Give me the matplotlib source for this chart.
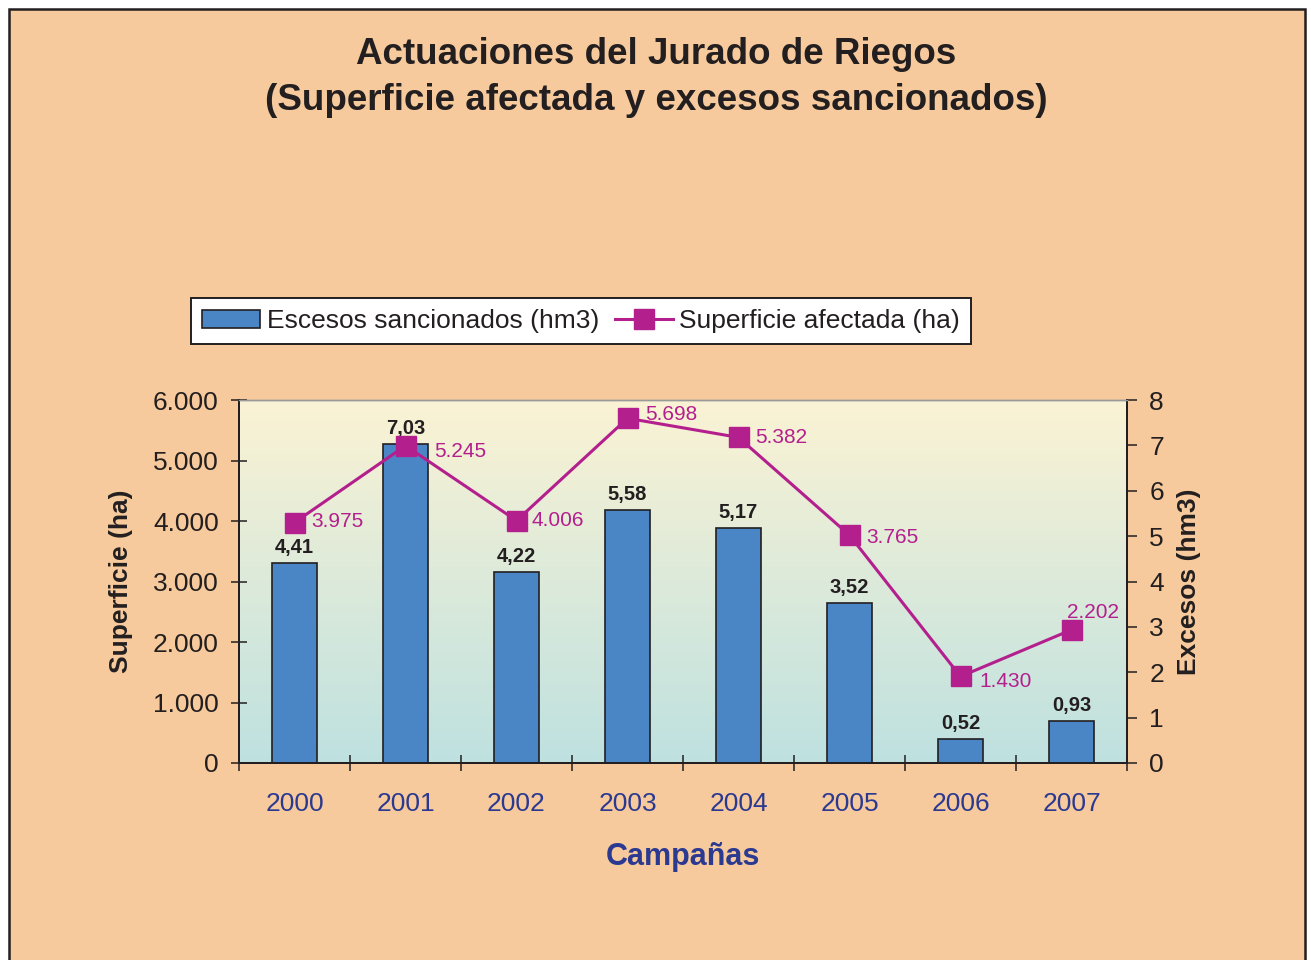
import matplotlib
matplotlib.use("Agg")
import matplotlib.pyplot as plt
import numpy as np
from matplotlib.patches import Rectangle
from matplotlib.ticker import FuncFormatter, MultipleLocator, FixedLocator

plt.rcParams['font.family'] = ['Liberation Sans', 'DejaVu Sans']

# ---- data ----
campanas = ['2000', '2001', '2002', '2003', '2004', '2005', '2006', '2007']
excesos_hm3 = [4.41, 7.03, 4.22, 5.58, 5.17, 3.52, 0.52, 0.93]
superficie_ha = [3975, 5245, 4006, 5698, 5382, 3765, 1430, 2202]

# label offsets (pixels) for the line labels
line_label_offsets = [(17, -1), (29, 6), (15, 0), (18, -4), (17, 0), (17, 2), (19, 5), (-4, -17)]

TXT = '#231F20'
BAR = '#4A86C6'
LINE = '#B41F8E'
BLUE = '#2B3990'
ORANGE = '#F6CA9C'

W, H = 1311, 960
fig = plt.figure(figsize=(W / 100, H / 100), dpi=100, facecolor='white')

# orange panel
fig.patches.append(Rectangle((9 / W, -0.05), (1305 - 9) / W, 1.05 - 9 / H,
                             transform=fig.transFigure, facecolor=ORANGE,
                             edgecolor=TXT, linewidth=1.8, zorder=-5))

# title
fig.text(656 / W, 1 - 55 / H, 'Actuaciones del Jurado de Riegos', ha='center', va='center',
         fontsize=26.5, fontweight='bold', color=TXT)
fig.text(656 / W, 1 - 100 / H, '(Superficie afectada y excesos sancionados)', ha='center', va='center',
         fontsize=26.5, fontweight='bold', color=TXT)

pos = [239 / W, 1 - 763 / H, (1127 - 239) / W, (763 - 400) / H]

# gradient background
bg = fig.add_axes(pos, zorder=0)
top = np.array([0xFB, 0xF3, 0xD4]) / 255
bot = np.array([0xBE, 0xE1, 0xE0]) / 255
t = np.linspace(0, 1, 256)[:, None]
grad = (top[None, :] * (1 - t) + bot[None, :] * t)[:, None, :]
bg.imshow(grad, aspect='auto', extent=[0, 1, 0, 1], interpolation='bilinear')
bg.axis('off')

ax = fig.add_axes(pos, zorder=2)
ax2 = ax.twinx()
ax2.set_zorder(1)
ax.patch.set_visible(False)
ax2.patch.set_visible(False)

x = np.arange(len(campanas))

# bars on right axis
bars = ax2.bar(x, excesos_hm3, width=0.40, color=BAR, edgecolor=TXT, linewidth=1.2,
               label='Escesos sancionados (hm3)')
for xi, v in zip(x, excesos_hm3):
    ax2.annotate(f'{v:.2f}'.replace('.', ','), (xi, v), xytext=(0, 6), textcoords='offset pixels',
                 ha='center', va='bottom', fontsize=14.5, fontweight='bold', color=TXT)

# line on left axis
line, = ax.plot(x, superficie_ha, color=LINE, linewidth=2.2, marker='s', markersize=14.5,
                markerfacecolor=LINE, markeredgecolor=LINE, label='Superficie afectada (ha)')
for xi, v, off in zip(x, superficie_ha, line_label_offsets):
    ax.annotate(f'{v:,}'.replace(',', '.'), (xi, v), xytext=(off[0], -off[1]), textcoords='offset pixels',
                ha='left', va='center', fontsize=15, color=LINE)

ax.set_xlim(-0.5, len(campanas) - 0.5)
ax.set_ylim(0, 6000)
ax2.set_ylim(0, 8)

ax.yaxis.set_major_locator(MultipleLocator(1000))
ax.yaxis.set_major_formatter(FuncFormatter(lambda v, p: f'{int(v):,}'.replace(',', '.')))
ax2.yaxis.set_major_locator(MultipleLocator(1))

ax.set_xticks(x)
ax.set_xticklabels(campanas)
ax.xaxis.set_minor_locator(FixedLocator(np.arange(-0.5, len(campanas), 1.0)))
ax.tick_params(axis='x', which='major', length=0, pad=21, labelsize=19, labelcolor=BLUE)
ax.tick_params(axis='x', which='minor', direction='inout', length=11, width=1.1, color=TXT)
ax.tick_params(axis='y', which='major', direction='inout', length=11, width=1.1, color=TXT,
               pad=9, labelsize=19, labelcolor=TXT)
ax2.tick_params(axis='y', which='major', direction='out', length=7, width=1.1, color=TXT,
                pad=9, labelsize=19, labelcolor=TXT)

for a in (ax, ax2):
    for s in ('left', 'bottom', 'right'):
        a.spines[s].set_color(TXT)
        a.spines[s].set_linewidth(1.4)
    a.spines['top'].set_color('#9A9A9A')
    a.spines['top'].set_linewidth(1.0)

ax.set_ylabel('Superficie (ha)', fontsize=19, fontweight='bold', color=TXT)
ax2.set_ylabel('Excesos (hm3)', fontsize=19, fontweight='bold', color=TXT)
ax.yaxis.set_label_coords((133 - 239) / (1127 - 239), 0.5)
ax2.yaxis.set_label_coords((1177 - 239) / (1127 - 239), 0.5)
ax2.yaxis.label.set_rotation(90)

fig.text(683 / W, 1 - 857 / H, 'Campañas', ha='center', va='center', fontsize=22,
         fontweight='bold', color=BLUE)

leg = fig.legend(handles=[bars, line], loc='center', bbox_to_anchor=(581 / W, 1 - 321 / H),
                 ncol=2, fontsize=19, frameon=True, fancybox=False, edgecolor=TXT,
                 facecolor='white', framealpha=1, handlelength=2.2, handleheight=0.7,
                 handletextpad=0.25, columnspacing=0.6, borderpad=0.4, borderaxespad=0)
leg.get_frame().set_linewidth(1.4)
for txt in leg.get_texts():
    txt.set_color(TXT)

fig.savefig('out.png', dpi=100, facecolor='white')
